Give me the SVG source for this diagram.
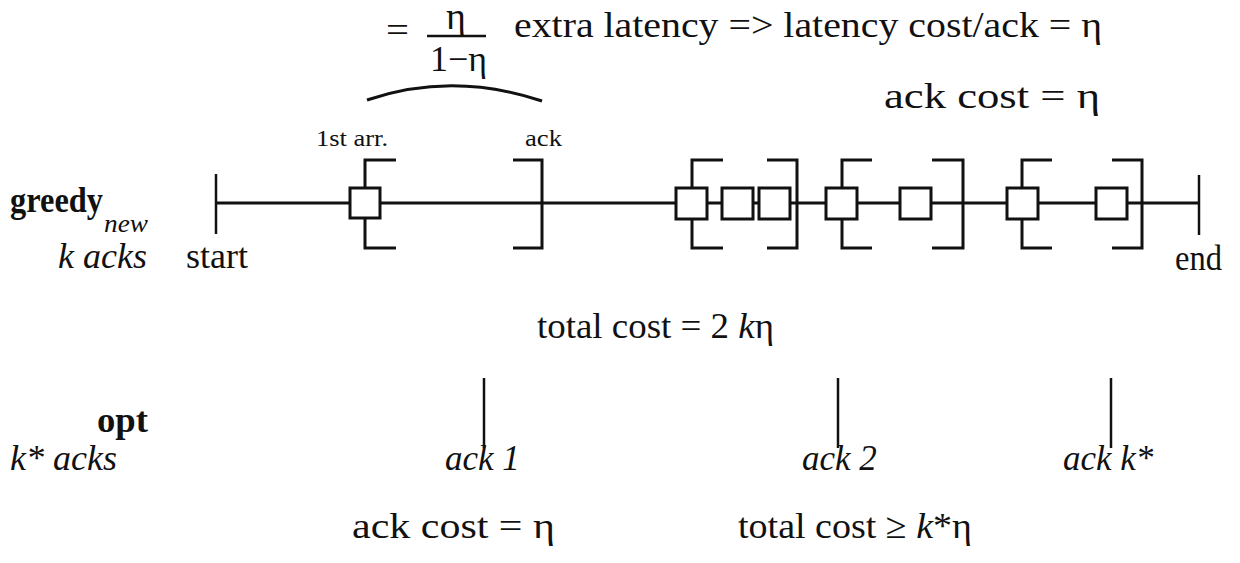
<svg xmlns="http://www.w3.org/2000/svg" width="1240" height="563" viewBox="0 0 1240 563">
  <style>
    .t { font-family: "Liberation Serif", "Times New Roman", serif; font-size: 36px; fill: #111; }
    .s { font-family: "Liberation Serif", "Times New Roman", serif; font-size: 23px; fill: #111; }
    .i { font-style: italic; font-size: 35px; }
    .b { font-weight: bold; }
    .ln { stroke: #111; stroke-width: 3; fill: none; }
    .bar { stroke: #111; stroke-width: 2.5; fill: none; }
    .box { stroke: #111; stroke-width: 3; fill: #fff; }
  </style>
  <rect width="1240" height="563" fill="#fff"/>

  <!-- latency fraction and brace over the first interval -->
  <g id="fraction">
    <text class="t" x="386" y="42" textLength="23" lengthAdjust="spacingAndGlyphs">=</text>
    <text class="t" x="456" y="29" text-anchor="middle" style="font-size:38px">η</text>
    <line class="bar" x1="427" y1="36" x2="486" y2="36"/>
    <text class="t" x="430" y="71" textLength="57" lengthAdjust="spacingAndGlyphs">1−η</text>
    <path class="ln" d="M367,100 Q452,71 542,101"/>
  </g>
  <g id="latency-note">
    <text class="t" x="514" y="37" textLength="588" lengthAdjust="spacingAndGlyphs">extra latency =&gt; latency cost/ack = η</text>
    <text class="t" x="884" y="108" textLength="216" lengthAdjust="spacingAndGlyphs">ack cost = η</text>
  </g>

  <!-- row labels -->
  <g id="greedy-label">
    <text class="t b" x="10" y="212" textLength="93" lengthAdjust="spacingAndGlyphs">greedy</text>
    <text class="t i" x="104" y="232" style="font-size:26px" textLength="44" lengthAdjust="spacingAndGlyphs">new</text>
    <text class="t i" x="147" y="268" text-anchor="end" style="font-size:36px">k acks</text>
  </g>
  <g id="opt-label">
    <text class="t b" x="97" y="432" textLength="51" lengthAdjust="spacingAndGlyphs">opt</text>
    <text class="t i" x="10" y="470" style="font-size:36px">k* acks</text>
  </g>

  <!-- greedy timeline -->
  <g id="connectors">
    <line class="ln" x1="216" y1="203" x2="1199" y2="203"/>
    <line class="bar" x1="216" y1="174" x2="216" y2="234"/>
    <line class="bar" x1="1199" y1="175" x2="1199" y2="235"/>
  </g>
  <g id="start">
    <text class="t" x="186" y="268" textLength="62" lengthAdjust="spacingAndGlyphs">start</text>
  </g>
  <g id="end">
    <text class="t" x="1175" y="270" textLength="47" lengthAdjust="spacingAndGlyphs">end</text>
  </g>

  <!-- ack intervals: [ opens at first arrival, ] closes at the ack -->
  <g id="interval-1">
    <path class="ln" d="M396,160 H365 V248 H396"/>
    <path class="ln" d="M513,160 H542 V248 H513"/>
    <rect class="box" x="350" y="188" width="30" height="30"/>
    <text class="s" x="316" y="146" textLength="72" lengthAdjust="spacingAndGlyphs">1st arr.</text>
    <text class="s" x="525" y="146" textLength="37" lengthAdjust="spacingAndGlyphs">ack</text>
  </g>
  <g id="interval-2">
    <path class="ln" d="M723,160 H692 V248 H723"/>
    <path class="ln" d="M767,160 H797 V248 H767"/>
    <rect class="box" x="676" y="188" width="31" height="31"/>
    <rect class="box" x="722" y="188" width="31" height="31"/>
    <rect class="box" x="759" y="188" width="31" height="31"/>
  </g>
  <g id="interval-3">
    <path class="ln" d="M872,160 H842 V248 H872"/>
    <path class="ln" d="M932,160 H963 V248 H932"/>
    <rect class="box" x="826" y="188" width="31" height="31"/>
    <rect class="box" x="900" y="188" width="31" height="31"/>
  </g>
  <g id="interval-4">
    <path class="ln" d="M1052,160 H1022 V248 H1052"/>
    <path class="ln" d="M1112,160 H1142 V248 H1112"/>
    <rect class="box" x="1007" y="188" width="31" height="31"/>
    <rect class="box" x="1096" y="188" width="31" height="31"/>
  </g>
  <g id="greedy-total">
    <text class="t" x="537" y="338" textLength="237" lengthAdjust="spacingAndGlyphs">total cost = 2 <tspan class="i" style="font-size:36px">k</tspan>η</text>
  </g>

  <!-- optimal acks -->
  <g id="opt-ack-1">
    <line class="bar" x1="484" y1="378" x2="484" y2="448"/>
    <text class="t i" x="445" y="470">ack 1</text>
  </g>
  <g id="opt-ack-2">
    <line class="bar" x1="838" y1="378" x2="838" y2="448"/>
    <text class="t i" x="802" y="470">ack 2</text>
  </g>
  <g id="opt-ack-k">
    <line class="bar" x1="1111" y1="378" x2="1111" y2="448"/>
    <text class="t i" x="1063" y="470">ack k*</text>
  </g>
  <g id="opt-costs">
    <text class="t" x="352" y="538" textLength="203" lengthAdjust="spacingAndGlyphs">ack cost = η</text>
    <text class="t" x="738" y="538" textLength="234" lengthAdjust="spacingAndGlyphs">total cost ≥ <tspan class="i" style="font-size:36px">k</tspan>*η</text>
  </g>
</svg>
